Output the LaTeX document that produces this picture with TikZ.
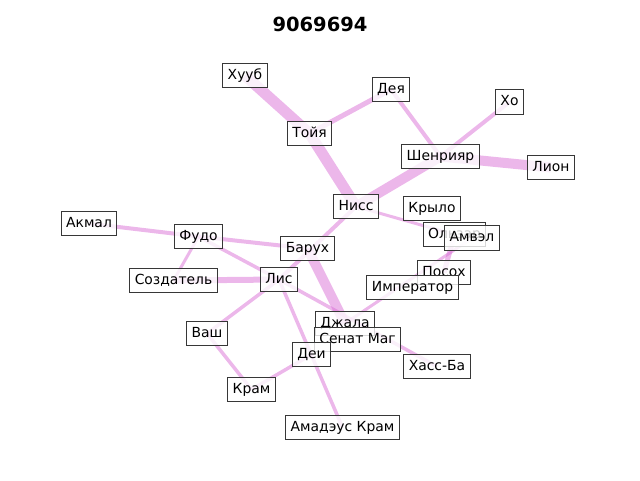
\documentclass[tikz,border=0pt]{standalone}
\usepackage{fontspec}
\setmainfont{DejaVu Sans}
\usetikzlibrary{backgrounds}
\definecolor{edgec}{RGB}{218,112,214}
\definecolor{boxline}{RGB}{55,55,55}
\tikzset{
  nbox/.style={draw=boxline, line width=1pt, fill=white, fill opacity=0.8, text opacity=1,
    font=\fontsize{13.9pt}{16pt}\selectfont, inner xsep=5pt, inner ysep=5pt,
    text height=11pt, text depth=3.5pt, rectangle},
  lnk/.style={draw=edgec, draw opacity=0.5, line width=#1},
  lnk/.default=3.5pt
}
\begin{document}
\begin{tikzpicture}[x=1pt,y=-1pt]
\useasboundingbox (0,0) rectangle (640,480);
\node[font=\fontsize{19.5pt}{22pt}\selectfont\bfseries] (title) at (320,24) {9069694};
\node[nbox] (huub) at (245,75.5) {Хууб};
\node[nbox] (deya) at (391,89.5) {Дея};
\node[nbox] (ho) at (509.5,102) {Хо};
\node[nbox] (toya) at (309.5,133.5) {Тойя};
\node[nbox] (shen) at (440.5,156.5) {Шенрияр};
\node[nbox] (lion) at (551,167.5) {Лион};
\node[nbox] (niss) at (356,206.5) {Нисс};
\node[nbox] (krylo) at (432,208.5) {Крыло};
\node[nbox] (olz) at (454.5,234.5) {Ользар};
\node[nbox] (amvel) at (472,238) {Амвэл};
\node[nbox] (akmal) at (89,223.5) {Акмал};
\node[nbox] (fudo) at (198.5,236.5) {Фудо};
\node[nbox] (baruh) at (307.5,248.5) {Барух};
\node[nbox] (sozd) at (173.5,280.5) {Создатель};
\node[nbox] (lis) at (279,279.5) {Лис};
\node[nbox] (posoh) at (444,272.5) {Посох};
\node[nbox] (imp) at (412.5,287.5) {Император};
\node[nbox] (dzhala) at (345,323.5) {Джала};
\node[nbox] (senat) at (357.5,339.5) {Сенат Маг};
\node[nbox] (vash) at (207,333.5) {Ваш};
\node[nbox] (dei) at (311.5,354.5) {Деи};
\node[nbox] (hass) at (437,366.5) {Хасс-Ба};
\node[nbox] (kram) at (251.5,389.5) {Крам};
\node[nbox] (amad) at (342.5,427.5) {Амадэус Крам};
\begin{pgfonlayer}{background}
\draw[lnk=11pt] (huub.center) -- (toya.center);
\draw[lnk=11pt] (toya.center) -- (niss.center);
\draw[lnk=10pt] (baruh.center) -- (dzhala.center);
\draw[lnk=10pt] (niss.center) -- (shen.center);
\draw[lnk=10pt] (shen.center) -- (lion.center);
\draw[lnk=5pt] (toya.center) -- (deya.center);
\draw[lnk=4pt] (deya.center) -- (shen.center);
\draw[lnk=4pt] (ho.center) -- (shen.center);
\draw[lnk=4pt] (niss.center) -- (lis.center);
\draw[lnk=3pt] (niss.center) -- (olz.center);
\draw[lnk=5pt] (olz.center) -- (posoh.center);
\draw[lnk=3pt] (amvel.center) -- (dzhala.center);
\draw[lnk=4pt] (akmal.center) -- (fudo.center);
\draw[lnk=4pt] (fudo.center) -- (baruh.center);
\draw[lnk=3pt] (fudo.center) -- (sozd.center);
\draw[lnk] (fudo.center) -- (lis.center);
\draw[lnk=6pt] (sozd.center) -- (lis.center);
\draw[lnk] (lis.center) -- (vash.center);
\draw[lnk] (vash.center) -- (kram.center);
\draw[lnk] (kram.center) -- (dei.center);
\draw[lnk] (lis.center) -- (amad.center);
\draw[lnk] (lis.center) -- (hass.center);
\end{pgfonlayer}
\end{tikzpicture}
\end{document}
